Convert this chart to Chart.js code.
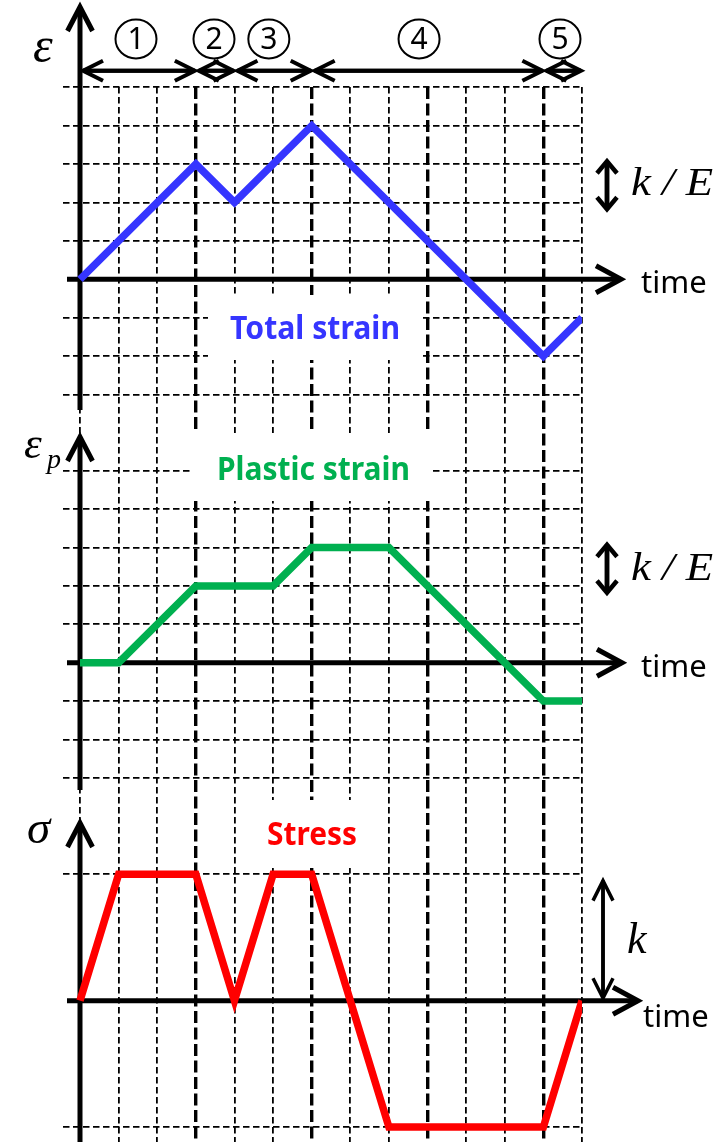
<!DOCTYPE html>
<html>
<head>
<meta charset="utf-8">
<script src="https://cdn.jsdelivr.net/npm/chart.js@4.4.1/dist/chart.umd.min.js"></script>
<style>
  html, body { margin: 0; padding: 0; background: #fff; }
  #contenedor { width: 720px; height: 1142px; position: relative; }
</style>
</head>
<body>
<div id="contenedor"><canvas id="graficaCarga" width="720" height="1142"></canvas></div>
<script>
// --- Datos: tiempo en divisiones de la cuadrícula ---
const tiempoTotal = [0, 3, 4, 6, 12, 13];
const deformTotal = [0, 3, 2, 4, -2, -1];              // en k/E
const tiempoPlastica = [0, 1, 3, 5, 6, 8, 12, 13];
const deformPlastica = [0, 0, 2, 2, 3, 3, -1, -1];     // en k/E
const tiempoTension = [0, 1, 3, 4, 5, 6, 8, 12, 13];
const tension = [0, 1, 1, 0, 1, 1, -1, -1, 0];         // en k

// Etapas de carga (①..⑤) y sus límites en el tiempo
const etapas = ['1', '2', '3', '4', '5'];
const limitesEtapa = [0, 3, 4, 6, 12, 13];
const centrosEtapa = [1.45, 3.47, 4.89, 8.78, 12.43];

// Marcas de la cuadrícula
const ticksTiempo = [0, 1, 2, 4, 5, 7, 8, 10, 11, 13];
const ticksTiempoGruesos = [3, 6, 9, 12];
const ticksDeform = [-3, -2, -1, 1, 2, 3, 4, 5];
const ticksTension = [-1, 1];

// --- Geometría del lienzo ---
const AREA = { left: 63, right: 582, top: 87, bottom: 1142 };
const X0 = 80;          // píxel de t = 0
const T_MAX = 13;
const PASO_Y = 38.4;    // px por k/E
const PASO_K = 126.4;   // px por k
const CERO = { yT: 279.3, yP: 662.7, yS: 1000.7 };

const pasoX = (AREA.right - X0) / T_MAX;
const xMin = -(X0 - AREA.left) / pasoX;

const AZUL = '#3535ff', VERDE = '#00b050', ROJO = '#ff0000';

const aPuntos = (xs, ys) => xs.map((t, i) => ({ x: t, y: ys[i] }));

function escalaX(ticks, grosor, guion) {
    return {
        type: 'linear', position: 'bottom', min: xMin, max: T_MAX,
        afterBuildTicks: s => { s.ticks = ticks.map(v => ({ value: v })); },
        ticks: { display: false, autoSkip: false },
        grid: { color: '#000', lineWidth: grosor, drawTicks: false },
        border: { display: false, dash: guion }
    };
}

function escalaY(cero, paso, ticks) {
    return {
        type: 'linear', position: 'left',
        min: -(AREA.bottom - cero) / paso,
        max: (cero - AREA.top) / paso,
        afterBuildTicks: s => { s.ticks = ticks.map(v => ({ value: v })); },
        ticks: { display: false, autoSkip: false },
        grid: { color: '#000', lineWidth: 1.8, drawTicks: false },
        border: { display: false, dash: [6.5, 3.5] }
    };
}

// Flecha abierta: línea hasta la punta y un chevrón
function flecha(ctx, x1, y1, x2, y2, largo, medio, grosor) {
    const ang = Math.atan2(y2 - y1, x2 - x1);
    const c = Math.cos(ang), s = Math.sin(ang);
    ctx.lineWidth = grosor;
    ctx.beginPath();
    ctx.moveTo(x1, y1);
    ctx.lineTo(x2, y2);
    ctx.stroke();
    ctx.beginPath();
    ctx.moveTo(x2 - largo * c - medio * s, y2 - largo * s + medio * c);
    ctx.lineTo(x2, y2);
    ctx.lineTo(x2 - largo * c + medio * s, y2 - largo * s - medio * c);
    ctx.stroke();
}

function flechaDoble(ctx, x1, y1, x2, y2, largo, medio, grosor) {
    flecha(ctx, x1, y1, x2, y2, largo, medio, grosor);
    flecha(ctx, x2, y2, x1, y1, largo, medio, grosor);
}

// Texto ajustado a un ancho dado
function textoAjustado(ctx, texto, cx, base, ancho, fuente, color) {
    ctx.save();
    ctx.font = fuente;
    const w = ctx.measureText(texto).width;
    ctx.translate(cx, base);
    ctx.scale(ancho / w, 1);
    ctx.textAlign = 'center';
    ctx.textBaseline = 'alphabetic';
    ctx.fillStyle = color;
    ctx.fillText(texto, 0, 0);
    ctx.restore();
}

const rotulos = [
    { texto: 'Total strain', color: AZUL, caja: [208, 295, 215, 65], cx: 315, base: 339, ancho: 170 },
    { texto: 'Plastic strain', color: VERDE, caja: [193, 433, 240, 68], cx: 313.5, base: 480, ancho: 193 },
    { texto: 'Stress', color: ROJO, caja: [245, 800, 135, 68], cx: 312, base: 845, ancho: 90 }
];

const decoraciones = {
    id: 'decoraciones',
    beforeDatasetsDraw(chart) {
        const ctx = chart.ctx;
        const sx = chart.scales.x;
        ctx.save();

        // Cajas blancas y títulos de cada curva
        rotulos.forEach(r => {
            ctx.fillStyle = '#fff';
            ctx.fillRect(...r.caja);
            textoAjustado(ctx, r.texto, r.cx, r.base, r.ancho, 'bold 33px "Noto Sans"', r.color);
        });

        ctx.strokeStyle = '#000';
        ctx.fillStyle = '#000';
        ctx.lineJoin = 'miter';
        ctx.lineCap = 'butt';

        const xAxis0 = sx.getPixelForValue(0);
        const yT0 = chart.scales.yT.getPixelForValue(0);
        const yP0 = chart.scales.yP.getPixelForValue(0);
        const yS0 = chart.scales.yS.getPixelForValue(0);

        // Ejes verticales
        flecha(ctx, xAxis0, 410, xAxis0, 7, 24, 12.5, 5);
        flecha(ctx, xAxis0, 790, xAxis0, 437, 24, 12.5, 5);
        flecha(ctx, xAxis0, 1145, xAxis0, 823, 24, 12.5, 5);

        // Ejes de tiempo
        flecha(ctx, 67, yT0, 621, yT0, 25, 13.5, 5);
        flecha(ctx, 67, yP0, 622, yP0, 25, 13.5, 5);
        flecha(ctx, 67, yS0, 638, yS0, 25, 13.5, 5);

        ctx.font = '31px "Noto Sans"';
        ctx.textAlign = 'left';
        ctx.textBaseline = 'alphabetic';
        ctx.fillText('time', 641, yT0 + 14);
        ctx.fillText('time', 641, yP0 + 14);
        ctx.fillText('time', 643, yS0 + 26);

        // Símbolos de los ejes
        ctx.font = 'italic 50px "Liberation Serif"';
        ctx.fillText('\u03B5', 33, 62);
        ctx.font = 'italic 45px "Liberation Serif"';
        ctx.fillText('\u03B5', 24, 458);
        ctx.font = 'italic 28px "Liberation Serif"';
        ctx.fillText('p', 47, 468);
        ctx.font = 'italic 47px "Liberation Serif"';
        ctx.fillText('\u03C3', 27, 843);

        // Etapas de carga
        const yEtapa = 70.7;
        for (let i = 0; i < etapas.length; i++) {
            const a = sx.getPixelForValue(limitesEtapa[i]) + 3;
            const b = sx.getPixelForValue(limitesEtapa[i + 1]) - 1;
            flechaDoble(ctx, a, yEtapa, b, yEtapa, 20, 10, 4);
            const cx = sx.getPixelForValue(centrosEtapa[i]);
            ctx.lineWidth = 2;
            ctx.beginPath();
            ctx.ellipse(cx, 39, 20.5, 19.5, 0, 0, Math.PI * 2);
            ctx.stroke();
            ctx.font = '30px "Noto Sans"';
            ctx.textAlign = 'center';
            ctx.textBaseline = 'middle';
            ctx.fillText(etapas[i], cx, 40);
        }

        // Escalas de referencia k/E y k
        ctx.textAlign = 'left';
        ctx.textBaseline = 'alphabetic';
        const yT = chart.scales.yT, yP = chart.scales.yP, yS = chart.scales.yS;
        [[yT, 195], [yP, 580]].forEach(([esc, base]) => {
            const yc = esc.getPixelForValue(2.5) + 2;
            flechaDoble(ctx, 607, yc - 24, 607, yc + 24, 12, 10, 4.5);
            ctx.save();
            ctx.font = 'italic 40px "Liberation Serif"';
            const w = ctx.measureText('k / E').width;
            ctx.translate(631, base);
            ctx.scale(82 / w, 1);
            ctx.fillText('k / E', 0, 0);
            ctx.restore();
        });
        flechaDoble(ctx, 603, yS.getPixelForValue(0.95), 603, yS.getPixelForValue(0.02), 20, 10, 3.5);
        ctx.font = 'italic 44px "Liberation Serif"';
        ctx.fillText('k', 627, 953);

        ctx.restore();
    }
};

new Chart(document.getElementById('graficaCarga'), {
    type: 'line',
    data: {
        datasets: [
            { data: aPuntos(tiempoTotal, deformTotal), xAxisID: 'x', yAxisID: 'yT', borderColor: AZUL, borderWidth: 7.5 },
            { data: aPuntos(tiempoPlastica, deformPlastica), xAxisID: 'x', yAxisID: 'yP', borderColor: VERDE, borderWidth: 7.5 },
            { data: aPuntos(tiempoTension, tension), xAxisID: 'x', yAxisID: 'yS', borderColor: ROJO, borderWidth: 7.5 }
        ]
    },
    options: {
        responsive: false,
        animation: false,
        events: [],
        layout: { padding: { left: AREA.left, right: 720 - AREA.right, top: AREA.top, bottom: 0 } },
        elements: {
            line: { tension: 0, fill: false, borderCapStyle: 'butt', borderJoinStyle: 'miter' },
            point: { radius: 0 }
        },
        plugins: { legend: { display: false }, tooltip: { enabled: false } },
        scales: {
            x: escalaX(ticksTiempo, 1.8, [6.5, 3.5]),
            x2: escalaX(ticksTiempoGruesos, 3.4, [12, 4.5]),
            yT: escalaY(CERO.yT, PASO_Y, ticksDeform),
            yP: escalaY(CERO.yP, PASO_Y, ticksDeform),
            yS: escalaY(CERO.yS, PASO_K, ticksTension)
        }
    },
    plugins: [decoraciones]
});
</script>
</body>
</html>
